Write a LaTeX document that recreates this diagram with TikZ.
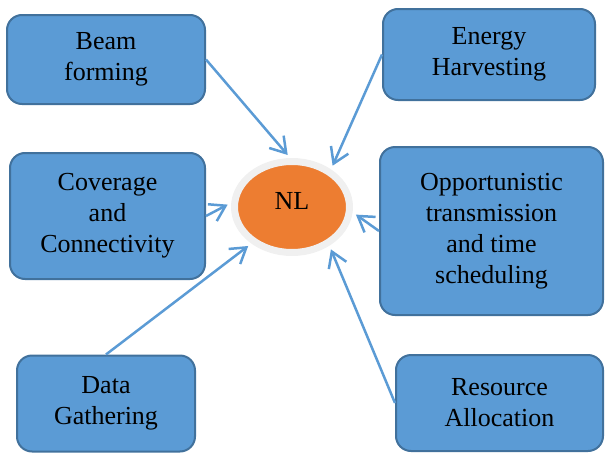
\documentclass[tikz,border=0pt]{standalone}
\usepackage{fontspec}
\setmainfont{Liberation Serif}
\usepackage{tikz}
\usetikzlibrary{arrows.meta}
\usetikzlibrary{shapes.geometric}
\usepackage{xcolor}

\definecolor{boxblue}{HTML}{5B9BD5}
\definecolor{boxedge}{HTML}{41719C}
\definecolor{nlorange}{HTML}{ED7D31}
\definecolor{nlhalo}{HTML}{F0F0F0}

\tikzset{
  topic/.style={draw=boxedge, fill=boxblue, line width=2pt, rounded corners=15pt,
    align=center, font=\fontsize{26}{31}\selectfont},
  link/.style={draw=boxblue, line width=2.5pt, shorten >=4pt,
    -{Straight Barb[length=15pt,width=19pt]}}
}

\begin{document}
\begin{tikzpicture}[x=1pt, y=-1pt]
\useasboundingbox (0,0) rectangle (606,453);

% centre
\node[ellipse, fill=nlorange, draw=nlhalo, line width=7pt,
      minimum width=115pt, minimum height=91pt, text depth=12pt,
      font=\fontsize{26}{31}\selectfont] (nl) at (292,207) {NL};

% topics round the centre
\node[topic, minimum width=198pt, minimum height=89pt] (beam) at (106,59.5) {Beam\\forming};
\node[topic, minimum width=212pt, minimum height=91pt] (energy) at (489,54.5) {Energy\\Harvesting};
\node[topic, minimum width=195pt, minimum height=126pt] (coverage) at (107.5,216) {Coverage\\and\\Connectivity};
\node[topic, minimum width=223pt, minimum height=168pt] (opport) at (491.5,231) {Opportunistic\\transmission\\and time\\scheduling};
\node[topic, minimum width=178pt, minimum height=96pt] (data) at (106,403.5) {Data\\Gathering};
\node[topic, minimum width=207pt, minimum height=96pt] (resource) at (499.5,403) {Resource\\Allocation};

% arrows into NL
\foreach \src/\ang in {beam.east/92, energy.west/44, coverage.east/176,
                       opport.west/355, data.north/222, resource.west/314} {
    \draw[link] (\src) -- (nl.\ang);
}
\end{tikzpicture}
\end{document}
